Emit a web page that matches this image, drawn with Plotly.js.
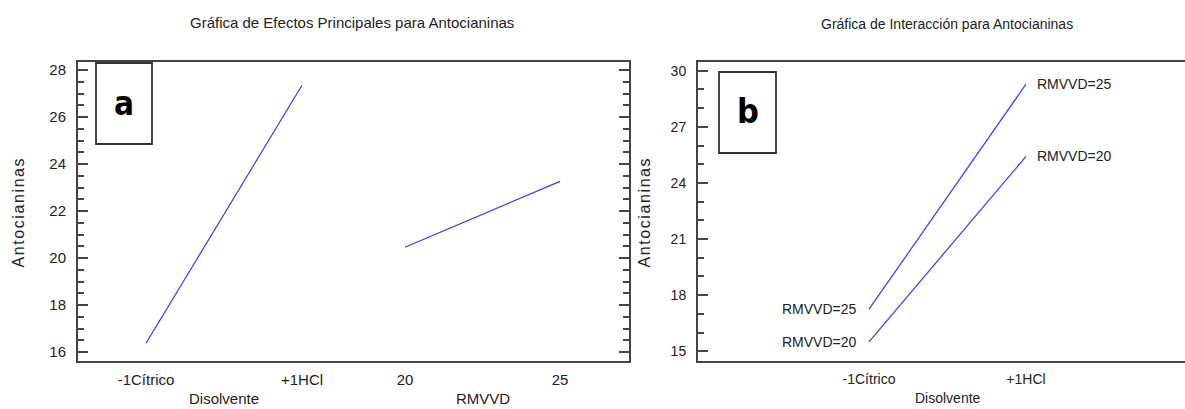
<!DOCTYPE html>
<html>
<head>
<meta charset="utf-8">
<script src="https://cdn.plot.ly/plotly-3.0.1.min.js"></script>
<style>
html,body{margin:0;padding:0;background:#fff;}
#chart{width:1185px;height:409px;}
</style>
</head>
<body>
<div id="chart"></div>
<script>
// ---- data ----
const disolventeCats = ['-1Cítrico', '+1HCl'];
const disolventeMeans = [16.37, 27.35];
const rmvvdLevels = [20, 25];
const rmvvdMeans = [20.46, 23.26];
const interRMVVD20 = [15.5, 25.42];
const interRMVVD25 = [17.25, 29.28];
const interSeriesNames = ['RMVVD=20', 'RMVVD=25'];
const yTitle = 'Antocianinas';
const titleA = 'Gráfica de Efectos Principales para Antocianinas';
const titleB = 'Gráfica de Interacción para Antocianinas';

// ---- layout helpers (pixel -> paper) ----
const W = 1185, H = 409;
const px = x => x / W;
const py = y => 1 - y / H;
const FONT = '"Liberation Sans", Arial, sans-serif';
const NARROW = '"DejaVu Sans Condensed", "Liberation Sans Narrow", "Liberation Sans", Arial, sans-serif';
const TXT = '#222';
const LINE = '#444';
const BLUE = 'rgb(55,55,255)';

// left panel geometry
const L0 = 78, LS = 353, L1 = 629, T = 62, B = 361;
const xc0 = 146, xc1 = 302;
const xr0 = 405, xr1 = 560;
const perCat = xc1 - xc0;
const perR = (xr1 - xr0) / (rmvvdLevels[1] - rmvvdLevels[0]);
const yTopPx = 70, yBotPx = 352, yTopV = 28, yBotV = 16;
const perY = (yBotPx - yTopPx) / (yTopV - yBotV);
const yRange = [yBotV - (B - yBotPx) / perY, yTopV + (yTopPx - T) / perY];

// right panel geometry
const R0 = 698, R1 = 1185;
const rc0 = 869, rc1 = 1026;
const perCat3 = rc1 - rc0;
const y3TopPx = 70.7, y3BotPx = 351.3, y3TopV = 30, y3BotV = 15;
const perY3 = (y3BotPx - y3TopPx) / (y3TopV - y3BotV);
const y3Range = [y3BotV - (B - y3BotPx) / perY3, y3TopV + (y3TopPx - T) / perY3];

const lineStyle = {color: BLUE, width: 1.2};

const traces = [
  {x: disolventeCats, y: disolventeMeans, xaxis: 'x', yaxis: 'y', mode: 'lines', line: lineStyle, showlegend: false, hoverinfo: 'skip'},
  {x: rmvvdLevels, y: rmvvdMeans, xaxis: 'x2', yaxis: 'y2', mode: 'lines', line: lineStyle, showlegend: false, hoverinfo: 'skip'},
  {x: disolventeCats, y: interRMVVD20, xaxis: 'x3', yaxis: 'y3', mode: 'lines', line: lineStyle, name: interSeriesNames[0], showlegend: false, hoverinfo: 'skip'},
  {x: disolventeCats, y: interRMVVD25, xaxis: 'x3', yaxis: 'y3', mode: 'lines', line: lineStyle, name: interSeriesNames[1], showlegend: false, hoverinfo: 'skip'}
];

const baseX = {
  showgrid: false, zeroline: false, showline: true, linecolor: LINE, linewidth: 2,
  mirror: true, ticks: '', ticklabelstandoff: 4, fixedrange: true
};
const baseY = {
  showgrid: false, zeroline: false, showline: true, linecolor: LINE, linewidth: 2,
  ticks: 'inside', tickcolor: LINE, tickwidth: 2, ticklen: 10, ticklabelstandoff: 7, fixedrange: true
};

const layout = {
  width: W, height: H,
  margin: {l: 0, r: 0, t: 0, b: 0},
  paper_bgcolor: '#fff', plot_bgcolor: '#fff',
  font: {family: FONT, color: TXT, size: 15},
  showlegend: false,
  xaxis: Object.assign({}, baseX, {
    type: 'category', domain: [px(L0), px(LS)], anchor: 'y',
    range: [0 - (xc0 - L0) / perCat, 1 + (LS - xc1) / perCat],
    tickfont: {family: FONT, size: 15, color: TXT}
  }),
  xaxis2: Object.assign({}, baseX, {
    type: 'linear', domain: [px(LS), px(L1)], anchor: 'y2',
    range: [rmvvdLevels[0] - (xr0 - LS) / perR, rmvvdLevels[1] + (L1 - xr1) / perR],
    tickvals: rmvvdLevels, ticktext: rmvvdLevels.map(String),
    tickfont: {family: FONT, size: 15, color: TXT}
  }),
  yaxis: Object.assign({}, baseY, {
    domain: [py(B), py(T)], anchor: 'x', side: 'left',
    range: yRange, dtick: 2, tick0: 0,
    tickfont: {family: FONT, size: 15, color: TXT},
    minor: {ticks: 'inside', ticklen: 6, tickcolor: LINE, tickwidth: 2, dtick: 0.5, showgrid: false}
  }),
  yaxis2: Object.assign({}, baseY, {
    domain: [py(B), py(T)], anchor: 'x2', side: 'right', overlaying: 'y',
    range: yRange, dtick: 2, tick0: 0, showticklabels: false,
    minor: {ticks: 'inside', ticklen: 6, tickcolor: LINE, tickwidth: 2, dtick: 0.5, showgrid: false}
  }),
  xaxis3: Object.assign({}, baseX, {
    type: 'category', domain: [px(R0), px(R1)], anchor: 'y3',
    range: [0 - (rc0 - R0) / perCat3, 1 + (R1 - rc1) / perCat3],
    tickfont: {family: FONT, size: 14, color: TXT}
  }),
  yaxis3: Object.assign({}, baseY, {
    domain: [py(B), py(T)], anchor: 'x3', side: 'left', mirror: false,
    range: y3Range, dtick: 3, tick0: 0, ticklen: 10,
    tickfont: {family: FONT, size: 14, color: TXT},
    minor: {ticks: 'inside', ticklen: 6, tickcolor: LINE, tickwidth: 2, dtick: 1, showgrid: false}
  }),
  shapes: [
    {type: 'rect', xref: 'paper', yref: 'paper', x0: px(96), x1: px(152), y0: py(144), y1: py(63),
     line: {color: '#333', width: 1.8}, fillcolor: 'rgba(0,0,0,0)'},
    {type: 'rect', xref: 'paper', yref: 'paper', x0: px(719), x1: px(776), y0: py(153), y1: py(72),
     line: {color: '#333', width: 1.8}, fillcolor: 'rgba(0,0,0,0)'}
  ],
  annotations: [
    {text: titleA, xref: 'paper', yref: 'paper', x: px(352), y: py(22), xanchor: 'center', yanchor: 'middle',
     showarrow: false, font: {family: FONT, size: 15, color: TXT}},
    {text: titleB, xref: 'paper', yref: 'paper', x: px(947), y: py(24), xanchor: 'center', yanchor: 'middle',
     showarrow: false, font: {family: FONT, size: 14, color: TXT}},
    {text: '<b>a</b>', xref: 'paper', yref: 'paper', x: px(123.5), y: py(103), xanchor: 'center', yanchor: 'middle',
     showarrow: false, font: {family: NARROW, size: 33, color: '#000'}},
    {text: '<b>b</b>', xref: 'paper', yref: 'paper', x: px(747.5), y: py(111), xanchor: 'center', yanchor: 'middle',
     showarrow: false, font: {family: NARROW, size: 34, color: '#000'}},
    {text: yTitle, xref: 'paper', yref: 'paper', x: px(19), y: py(212), textangle: -90, xanchor: 'center', yanchor: 'middle',
     showarrow: false, font: {family: FONT, size: 16, color: TXT}},
    {text: yTitle, xref: 'paper', yref: 'paper', x: px(645), y: py(212), textangle: -90, xanchor: 'center', yanchor: 'middle',
     showarrow: false, font: {family: FONT, size: 16, color: TXT}},
    {text: 'Disolvente', xref: 'x', yref: 'paper', x: 0.5, y: py(398), xanchor: 'center', yanchor: 'middle',
     showarrow: false, font: {family: FONT, size: 15, color: TXT}},
    {text: 'RMVVD', xref: 'x2', yref: 'paper', x: (rmvvdLevels[0] + rmvvdLevels[1]) / 2, y: py(398), xanchor: 'center', yanchor: 'middle',
     showarrow: false, font: {family: FONT, size: 15, color: TXT}},
    {text: 'Disolvente', xref: 'x3', yref: 'paper', x: 0.5, y: py(398), xanchor: 'center', yanchor: 'middle',
     showarrow: false, font: {family: FONT, size: 14, color: TXT}},
    {text: interSeriesNames[1], xref: 'x3', yref: 'y3', x: 0, y: interRMVVD25[0], xanchor: 'right', yanchor: 'middle', xshift: -10,
     showarrow: false, font: {family: FONT, size: 14, color: TXT}},
    {text: interSeriesNames[0], xref: 'x3', yref: 'y3', x: 0, y: interRMVVD20[0], xanchor: 'right', yanchor: 'middle', xshift: -10,
     showarrow: false, font: {family: FONT, size: 14, color: TXT}},
    {text: interSeriesNames[1], xref: 'x3', yref: 'y3', x: 1, y: interRMVVD25[1], xanchor: 'left', yanchor: 'middle', xshift: 9,
     showarrow: false, font: {family: FONT, size: 14, color: TXT}},
    {text: interSeriesNames[0], xref: 'x3', yref: 'y3', x: 1, y: interRMVVD20[1], xanchor: 'left', yanchor: 'middle', xshift: 9,
     showarrow: false, font: {family: FONT, size: 14, color: TXT}}
  ]
};

Plotly.newPlot('chart', traces, layout, {staticPlot: true, displayModeBar: false}).then(function () {
  document.querySelectorAll('.annotation-text').forEach(function (t) {
    if (t.textContent === yTitle) { t.style.letterSpacing = '1.6px'; }
  });
});
</script>
</body>
</html>
